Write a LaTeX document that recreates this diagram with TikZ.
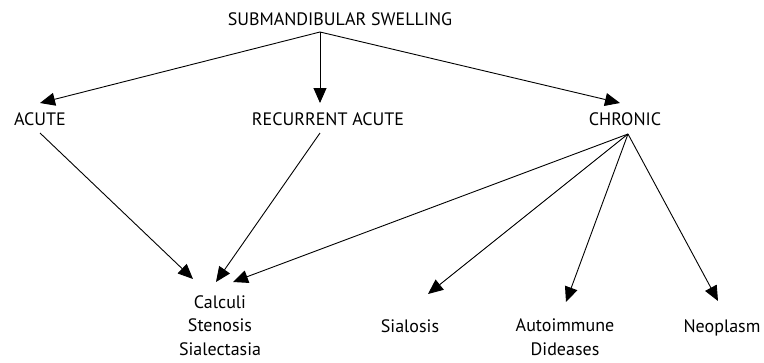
\documentclass[tikz,border=0pt]{standalone}
\usepackage{fontspec}
\setmainfont{PT Sans}
\usetikzlibrary{arrows.meta}
\begin{document}
\begin{tikzpicture}[x=1pt,y=-1pt,
  lbl/.style={font=\fontsize{18}{23.5}\selectfont, inner sep=0pt, align=center, anchor=base},
  arr/.style={-{Triangle[length=15pt,width=13pt]}, line width=0.9pt},
  ln/.style={line width=0.9pt}]
\useasboundingbox (0,0) rectangle (764,362);
\node[lbl] (title) at (340,25) {SUBMANDIBULAR SWELLING};
\node[lbl] (acute) at (40,125) {ACUTE};
\node[lbl] (rec) at (328,125) {RECURRENT ACUTE};
\node[lbl] (chr) at (625,125) {CHRONIC};
\node[lbl] (calc) at (220,355) {Calculi\\Stenosis\\Sialectasia};
\node[lbl] (sial) at (410,332) {Sialosis};
\node[lbl] (auto) at (565,355) {Autoimmune\\Dideases};
\node[lbl] (neo) at (722,332) {Neoplasm};
\coordinate (top) at (320,32);
\coordinate (acuteIn) at (40,103);
\coordinate (recIn) at (320,103);
\coordinate (chrIn) at (620,103);
\coordinate (acuteOut) at (40,133);
\coordinate (recOut) at (320,133);
\coordinate (chrOut) at (628,134);
\coordinate (calcA) at (193,279);
\coordinate (calcB) at (216,282);
\coordinate (calcC) at (233,282);
\coordinate (sialIn) at (428,294);
\coordinate (autoIn) at (566,302);
\coordinate (neoIn) at (718,301);
\draw[arr] (top) -- (acuteIn);
\draw[arr] (top) -- (recIn);
\draw[arr] (top) -- (chrIn);
\draw[arr] (acuteOut) -- (calcA);
\draw[arr] (recOut) -- (calcB);
\draw[arr] (chrOut) -- (calcC);
\draw[arr] (chrOut) -- (sialIn);
\draw[arr] (chrOut) -- (autoIn);
\draw[arr] (chrOut) -- (neoIn);
\end{tikzpicture}
\end{document}
